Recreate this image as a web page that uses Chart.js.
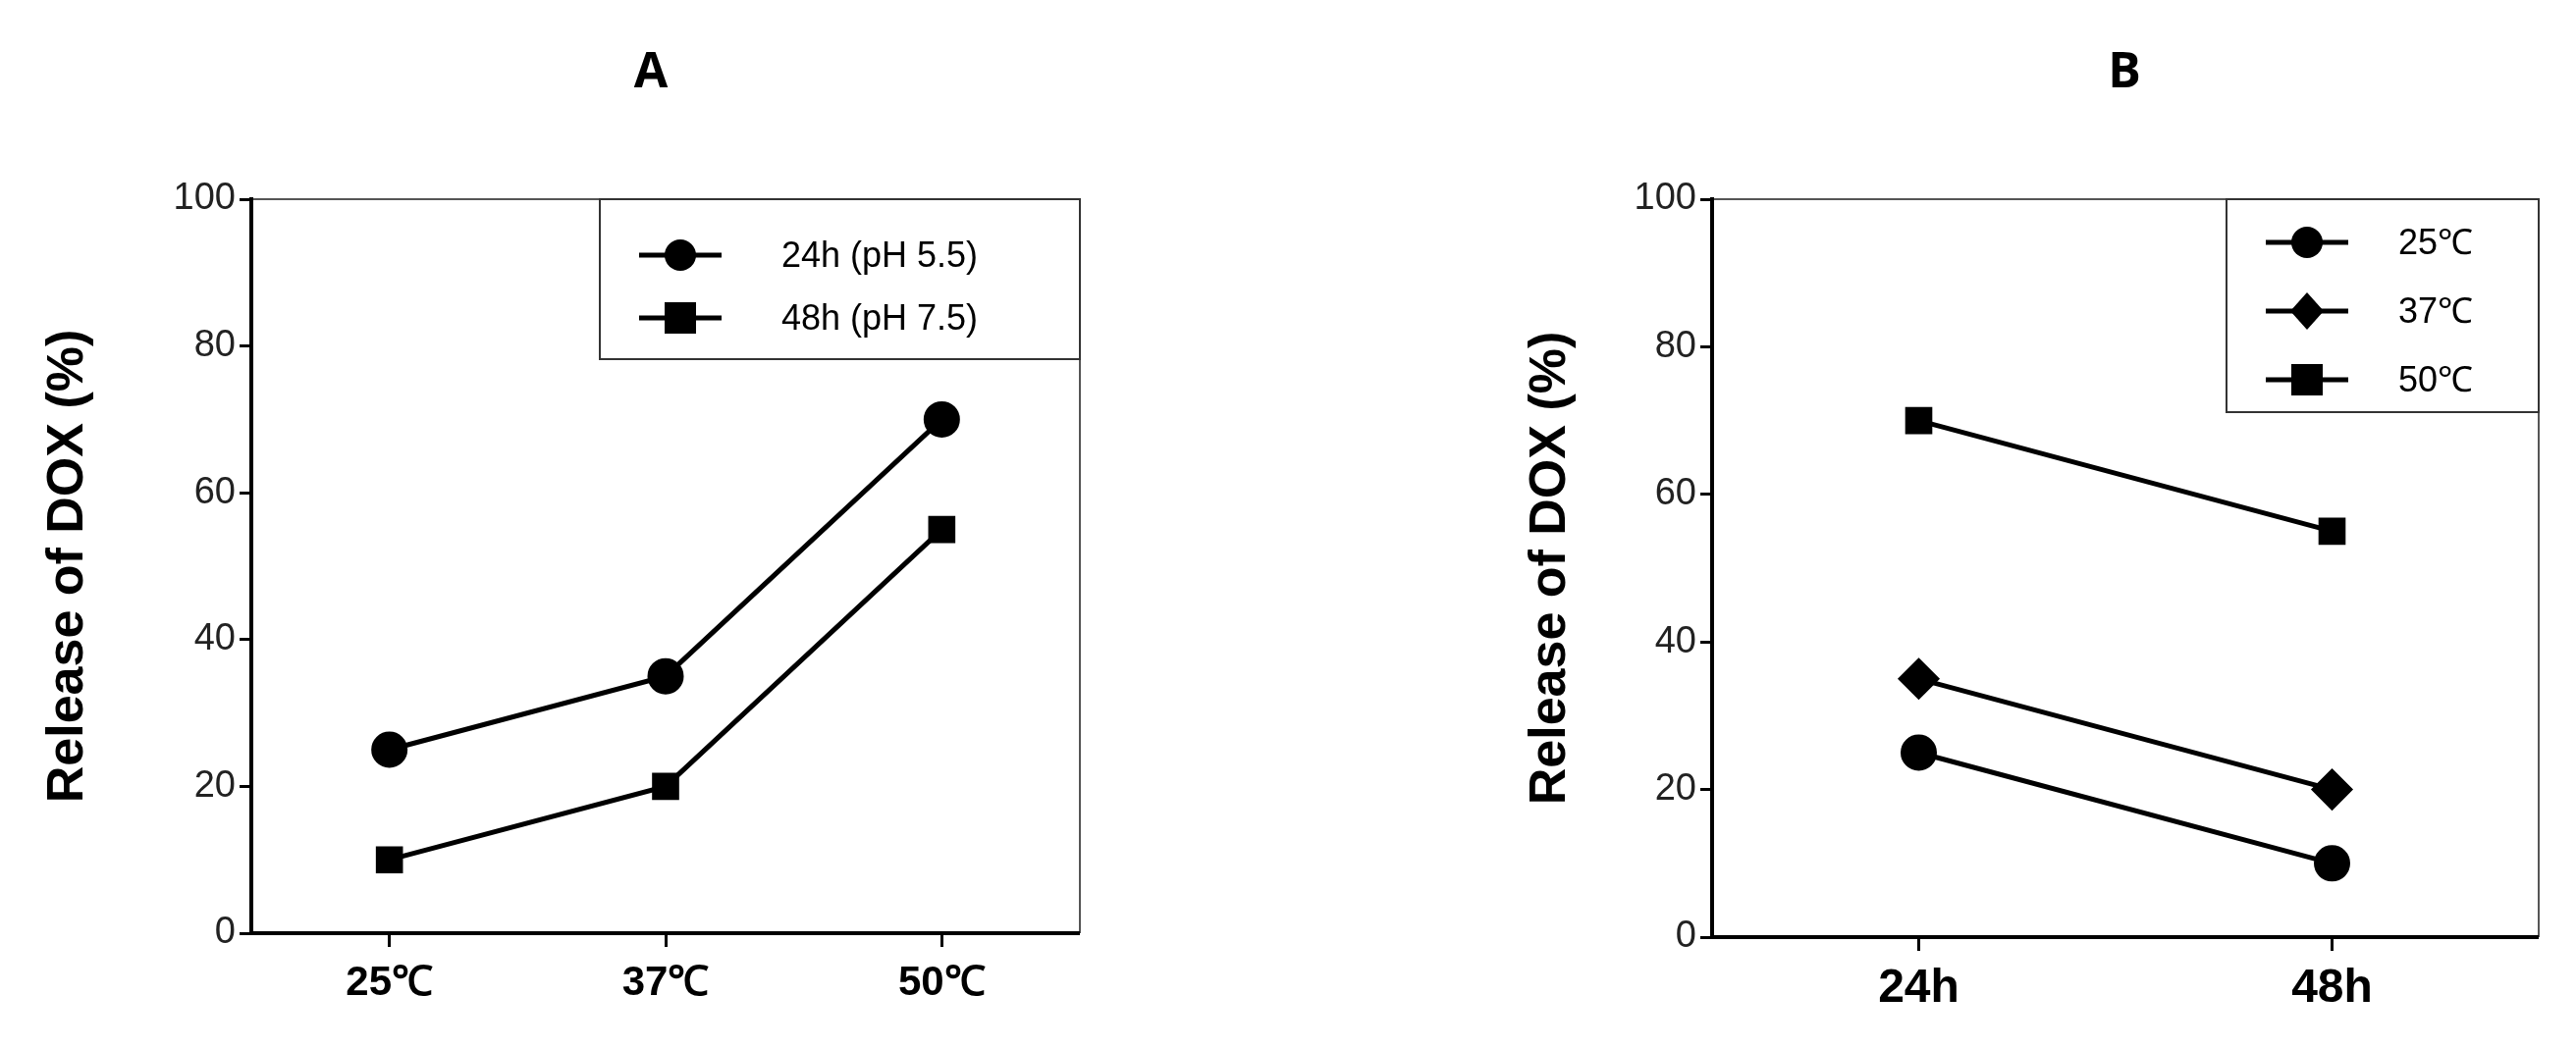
<!DOCTYPE html>
<html><head><meta charset="utf-8">
<script src="https://cdn.jsdelivr.net/npm/chart.js@4/dist/chart.umd.min.js"></script>
<style>body{margin:0;background:#fff;width:2624px;height:1068px;overflow:hidden}
.c{position:absolute;top:0;height:1068px}</style></head><body>
<div class="c" style="left:0;width:1250px"><canvas id="a"></canvas></div>
<div class="c" style="left:1250px;width:1374px"><canvas id="b"></canvas></div>
<script>
const catsA=['25℃','37℃','50℃'];
const a24=[25,35,70];
const a48=[10,20,55];
const catsB=['24h','48h'];
const b25=[25,10];
const b37=[35,20];
const b50=[70,55];
const yTicks=[0,20,40,60,80,100];
const narrow='"Liberation Sans Narrow","Arial Narrow","Liberation Sans",sans-serif';

const frame={id:'frame',afterDraw(c,args,o){
  const {ctx,chartArea:a}=c;ctx.save();
  ctx.strokeStyle='#555';ctx.lineWidth=2;
  ctx.beginPath();ctx.moveTo(a.left,a.top);ctx.lineTo(a.right,a.top);ctx.lineTo(a.right,a.bottom);ctx.stroke();
  ctx.strokeStyle='#000';ctx.lineWidth=4;
  ctx.beginPath();ctx.moveTo(a.left,a.top-2);ctx.lineTo(a.left,a.bottom);ctx.lineTo(a.right,a.bottom);ctx.stroke();
  ctx.fillStyle='#000';ctx.font='bold 50px "Open Sans",sans-serif';ctx.textAlign='center';ctx.textBaseline='middle';
  ctx.fillText(o.letter,o.lx,75);
  const L=o.legend;const x0=a.right-L.w,y0=a.top;
  ctx.fillStyle='#fff';ctx.fillRect(x0,y0,L.w,L.h);
  ctx.strokeStyle='#333';ctx.lineWidth=2;ctx.strokeRect(x0,y0,L.w,L.h);
  c.data.datasets.forEach((d,i)=>{
    const y=y0+L.y0+i*L.dy;
    ctx.strokeStyle='#000';ctx.lineWidth=5;ctx.beginPath();ctx.moveTo(x0+40,y);ctx.lineTo(x0+124,y);ctx.stroke();
    ctx.fillStyle='#000';const m=x0+82;
    if(d.pointStyle==='circle'){ctx.beginPath();ctx.arc(m,y,16,0,7);ctx.fill();}
    else if(d.pointStyle==='rect'){ctx.fillRect(m-16,y-16,32,32);}
    else {ctx.beginPath();ctx.moveTo(m,y-19);ctx.lineTo(m+17,y);ctx.lineTo(m,y+19);ctx.lineTo(m-17,y);ctx.fill();}
    ctx.font='36px '+narrow;ctx.textAlign='left';ctx.fillText(d.label,x0+L.tx,y+2);
  });
  ctx.restore();}};

function ds(label,data,ps){return {label,data,pointStyle:ps,borderColor:'#000',backgroundColor:'#000',borderWidth:5,pointRadius:ps==='rectRot'?18:16,pointHoverRadius:16,tension:0};}
const tickGrid={display:true,drawOnChartArea:false,drawTicks:true,tickLength:14,color:'#000',lineWidth:3};
function yScale(w){return {min:0,max:100,afterBuildTicks:s=>{s.ticks=yTicks.map(v=>({value:v}))},
  grid:{...tickGrid,tickLength:12},border:{display:false},
  ticks:{color:'#222',font:{size:38,family:narrow},padding:4},
  title:{display:true,text:'Release of DOX (%)',color:'#000',font:{size:52,weight:'bold',family:'"Liberation Sans",Arial,sans-serif'},padding:{top:38,bottom:0}},
  afterFit:s=>{s.width=w}};}
const common={responsive:true,maintainAspectRatio:false,animation:false,plugins:{legend:{display:false},tooltip:{enabled:false}}};

new Chart(document.getElementById('a'),{type:'line',
 data:{labels:catsA,datasets:[ds('24h (pH 5.5)',a24,'circle'),ds('48h (pH 7.5)',a48,'rect')]},
 options:{...common,layout:{padding:{top:203,right:150}},
  plugins:{...common.plugins,frame:{letter:'A',lx:663,legend:{w:489,h:163,y0:57,dy:64,tx:185}}},
  scales:{x:{offset:true,grid:{...tickGrid,offset:false},border:{display:false},
    ticks:{color:'#000',font:{size:42,weight:'bold',family:narrow},padding:12},afterFit:s=>{s.height=117}},
   y:yScale(256)}},plugins:[frame]});

new Chart(document.getElementById('b'),{type:'line',
 data:{datasets:[ds('25℃',b25.map((v,i)=>({x:i,y:v})),'circle'),ds('37℃',b37.map((v,i)=>({x:i,y:v})),'rectRot'),ds('50℃',b50.map((v,i)=>({x:i,y:v})),'rect')]},
 options:{...common,layout:{padding:{top:203,right:38,left:260}},
  plugins:{...common.plugins,frame:{letter:'B',lx:914,legend:{w:318,h:217,y0:44,dy:70,tx:175}}},
  scales:{x:{type:'linear',min:-0.5,max:1.5,afterBuildTicks:s=>{s.ticks=[{value:0},{value:1}]},
    grid:tickGrid,border:{display:false},
    ticks:{color:'#000',font:{size:48,weight:'bold',family:'"Liberation Sans",Arial,sans-serif'},padding:10,callback:v=>catsB[v]},afterFit:s=>{s.height=113}},
   y:yScale(234)}},plugins:[frame]});
</script></body></html>
